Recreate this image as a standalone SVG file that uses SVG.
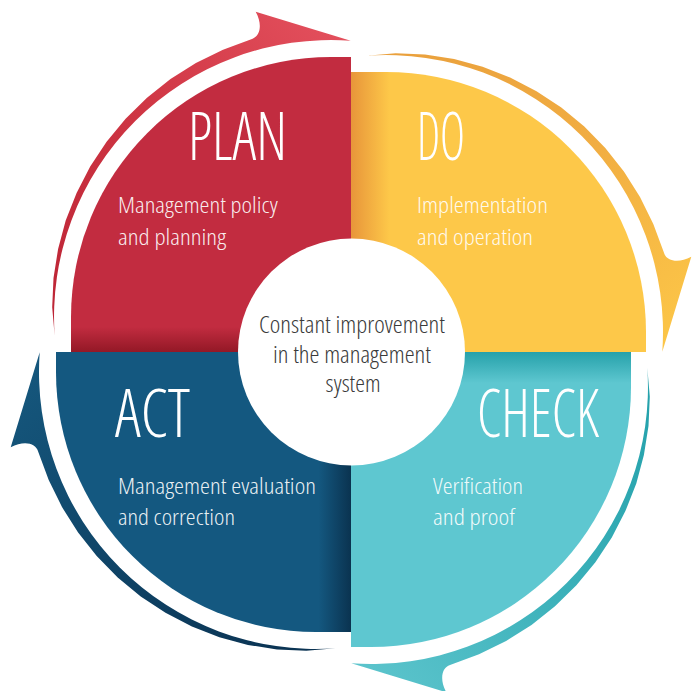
<svg xmlns="http://www.w3.org/2000/svg" xmlns:xlink="http://www.w3.org/1999/xlink" width="698" height="691" viewBox="0 0 698 691">
<style>
.t{font-family:"Open Sans","Liberation Sans",sans-serif;font-weight:300;font-stretch:condensed;fill:#fff}
.title{font-size:66px}
.sub{font-size:22px;fill-opacity:.92}
.ctr{font-family:"Open Sans","Liberation Sans",sans-serif;font-weight:300;font-stretch:condensed;font-size:23px;fill:#3a3a3a;text-anchor:middle}
</style>
<defs>
<path id="quad" d="M351 352 L71 352 L71 317 A260 260 0 0 1 331 57 L351 57 Z"/>
<path id="arrow" d="M54.7 336.3 L52.2 307.3 L53.5 278 L58.1 248.9 L65.7 220.4 L76.6 192.9 L90.2 166.5 L106.6 141.7 L125.6 118.7 L147 97.7 L170.5 79.1 L195.9 63 L223 49.7 L251.3 39.2 C260 37 263 25 255.7 11.7 L350.7 40.7 A277 277 0 0 0 54.7 336.3 Z"/>
<linearGradient id="gPlan" x1="0" y1="0" x2="0" y2="1"><stop offset="0.915" stop-color="#c22c40"/><stop offset="1" stop-color="#931826"/></linearGradient>
<linearGradient id="gDo" x1="0" y1="0" x2="0" y2="1"><stop offset="0.87" stop-color="#fdc849"/><stop offset="1" stop-color="#e8953a"/></linearGradient>
<linearGradient id="gCheck" x1="0" y1="0" x2="0" y2="1"><stop offset="0.895" stop-color="#5ec7d0"/><stop offset="1" stop-color="#26a1aa"/></linearGradient>
<linearGradient id="gAct" x1="0" y1="0" x2="0" y2="1"><stop offset="0.89" stop-color="#145880"/><stop offset="1" stop-color="#0a3350"/></linearGradient>
<linearGradient id="aPlan" x1="0" y1="1" x2="1" y2="0"><stop offset="0" stop-color="#bb2334"/><stop offset="0.5" stop-color="#cf3644"/><stop offset="1" stop-color="#e5525f"/></linearGradient>
<linearGradient id="aDo" x1="0" y1="1" x2="1" y2="0"><stop offset="0" stop-color="#e99f3c"/><stop offset="0.5" stop-color="#f1ad42"/><stop offset="1" stop-color="#fdc848"/></linearGradient>
<linearGradient id="aCheck" x1="0" y1="1" x2="1" y2="0"><stop offset="0" stop-color="#22a0aa"/><stop offset="0.5" stop-color="#3cb1ba"/><stop offset="1" stop-color="#5fc6ce"/></linearGradient>
<linearGradient id="aAct" x1="0" y1="1" x2="1" y2="0"><stop offset="0" stop-color="#0a3150"/><stop offset="0.5" stop-color="#0f4467"/><stop offset="1" stop-color="#16597f"/></linearGradient>
</defs>
<rect width="698" height="691" fill="#fff"/>
<g id="plan">
<use xlink:href="#quad" href="#quad" fill="url(#gPlan)"/>
<text class="t title" x="188" y="160" textLength="99" lengthAdjust="spacingAndGlyphs">PLAN</text>
<text class="t sub" x="118" y="213" textLength="160" lengthAdjust="spacingAndGlyphs">Management policy</text>
<text class="t sub" x="118" y="245" textLength="108" lengthAdjust="spacingAndGlyphs">and planning</text>
</g>
<g id="do">
<use xlink:href="#quad" href="#quad" fill="url(#gDo)" transform="rotate(90 351 352)"/>
<text class="t title" x="417" y="160" textLength="48" lengthAdjust="spacingAndGlyphs">DO</text>
<text class="t sub" x="417" y="213" textLength="131" lengthAdjust="spacingAndGlyphs">Implementation</text>
<text class="t sub" x="417" y="245" textLength="116" lengthAdjust="spacingAndGlyphs">and operation</text>
</g>
<g id="check">
<use xlink:href="#quad" href="#quad" fill="url(#gCheck)" transform="rotate(180 351 352)"/>
<text class="t title" x="477" y="437" textLength="122" lengthAdjust="spacingAndGlyphs">CHECK</text>
<text class="t sub" x="433" y="494" textLength="90" lengthAdjust="spacingAndGlyphs">Verification</text>
<text class="t sub" x="433" y="525" textLength="82" lengthAdjust="spacingAndGlyphs">and proof</text>
</g>
<g id="act">
<use xlink:href="#quad" href="#quad" fill="url(#gAct)" transform="rotate(270 351 352)"/>
<text class="t title" x="115" y="437" textLength="75" lengthAdjust="spacingAndGlyphs">ACT</text>
<text class="t sub" x="118" y="494" textLength="198" lengthAdjust="spacingAndGlyphs">Management evaluation</text>
<text class="t sub" x="118" y="525" textLength="117" lengthAdjust="spacingAndGlyphs">and correction</text>
</g>
<g id="connectors">
<use xlink:href="#arrow" href="#arrow" fill="url(#aPlan)"/>
<use xlink:href="#arrow" href="#arrow" fill="url(#aDo)" transform="rotate(90 351 352)"/>
<use xlink:href="#arrow" href="#arrow" fill="url(#aCheck)" transform="rotate(180 351 352)"/>
<use xlink:href="#arrow" href="#arrow" fill="url(#aAct)" transform="rotate(270 351 352)"/>
</g>
<g id="center">
<circle cx="351.5" cy="352" r="113.5" fill="#fff"/>
<text class="ctr" x="352" y="333" textLength="186" lengthAdjust="spacingAndGlyphs">Constant improvement</text>
<text class="ctr" x="352" y="363" textLength="158" lengthAdjust="spacingAndGlyphs">in the management</text>
<text class="ctr" x="353" y="392" textLength="55" lengthAdjust="spacingAndGlyphs">system</text>
</g>
</svg>
